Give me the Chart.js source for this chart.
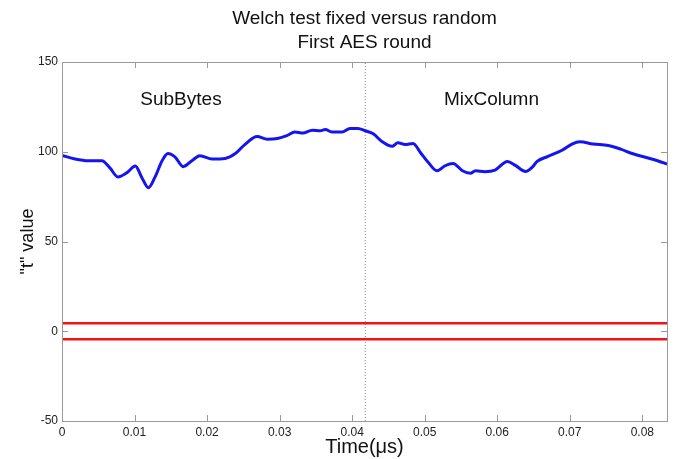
<!DOCTYPE html>
<html>
<head>
<meta charset="utf-8">
<script src="https://cdn.jsdelivr.net/npm/chart.js@4/dist/chart.umd.min.js"></script>
<style>
  html, body { margin: 0; padding: 0; background: #fff; }
  #wrap { width: 677px; height: 459px; position: relative; }
</style>
</head>
<body>
<div id="wrap"><canvas id="chart"></canvas></div>
<script>
const timeUs = [
  0, 0.0018, 0.0036, 0.0055, 0.0066, 0.0077, 0.0090, 0.0101, 0.0110, 0.0119,
  0.0128, 0.0138, 0.0146, 0.0156, 0.0167, 0.0179, 0.0190, 0.0207, 0.0225, 0.0239,
  0.0252, 0.0269, 0.0283, 0.0297, 0.0310, 0.0321, 0.0332, 0.0345, 0.0356, 0.0363,
  0.0372, 0.0386, 0.0397, 0.0408, 0.0418, 0.0429, 0.0441, 0.0455, 0.0463, 0.0473,
  0.0484, 0.0494, 0.0505, 0.0517, 0.0528, 0.0539, 0.0552, 0.0563, 0.0570, 0.0583,
  0.0597, 0.0614, 0.0625, 0.0639, 0.0648, 0.0655, 0.0670, 0.0690, 0.0703, 0.0714,
  0.0732, 0.0753, 0.0770, 0.0786, 0.0804, 0.0821, 0.0834
];
const tValues = [
  98, 96, 95, 95, 91, 86, 88.5, 92, 85.7, 80,
  85.7, 95, 99, 97, 91.7, 95, 97.8, 96, 96.3, 99,
  104, 108.5, 107, 107.4, 109, 111, 110.4, 112, 111.7, 112.4,
  111, 111, 113, 113, 111.7, 110, 105.7, 103, 105, 104,
  104.6, 99.6, 94, 89.4, 92.2, 93.5, 89.4, 88, 89.4, 88.9,
  89.8, 94.6, 92.4, 89, 91.3, 94.6, 97.4, 101, 104.3, 105.6,
  104.3, 103.5, 101.5, 99, 96.9, 95, 93.1
];
const xTicks = [0, 0.01, 0.02, 0.03, 0.04, 0.05, 0.06, 0.07, 0.08];
const yTicks = [-50, 0, 50, 100, 150];
const xMax = 0.0834;
const thresholds = [4.5, -4.5];
const splitTime = 0.0418;
const titleLines = ['Welch test fixed versus random', 'First AES round'];
const phaseLabels = [
  { text: 'SubBytes', x: 0.0164, y: 129 },
  { text: 'MixColumn', x: 0.0592, y: 129 },
];

const FONT = '"Liberation Sans", Arial, sans-serif';
const AXIS_GRAY = '#9a9a9a';

// matlab-ish frame: box on all sides, inward ticks, title and phase labels
const framePlugin = {
  id: 'frame',
  afterDatasetsDraw(chart) {
    const { ctx, chartArea: a, scales: { x, y } } = chart;
    ctx.save();
    ctx.strokeStyle = AXIS_GRAY;
    ctx.lineWidth = 1;
    ctx.strokeRect(a.left + 0.5, a.top + 0.5, a.right - a.left, a.bottom - a.top);
    ctx.beginPath();
    xTicks.forEach(v => {
      const px = Math.round(x.getPixelForValue(v)) + 0.5;
      ctx.moveTo(px, a.bottom); ctx.lineTo(px, a.bottom - 6);
      ctx.moveTo(px, a.top); ctx.lineTo(px, a.top + 6);
    });
    yTicks.forEach(v => {
      const py = Math.round(y.getPixelForValue(v)) + 0.5;
      ctx.moveTo(a.left, py); ctx.lineTo(a.left + 6, py);
      ctx.moveTo(a.right, py); ctx.lineTo(a.right - 6, py);
    });
    ctx.stroke();

    ctx.fillStyle = '#111';
    ctx.textAlign = 'center';
    ctx.textBaseline = 'middle';
    ctx.font = '19px ' + FONT;
    const cx = (a.left + a.right) / 2;
    titleLines.forEach((t, i) => ctx.fillText(t, cx, 19 + i * 24));
    phaseLabels.forEach(l => ctx.fillText(l.text, x.getPixelForValue(l.x), y.getPixelForValue(l.y)));
    ctx.restore();
  }
};

new Chart(document.getElementById('chart'), {
  type: 'line',
  data: {
    datasets: [
      {
        data: timeUs.map((t, i) => ({ x: t, y: tValues[i] })),
        borderColor: '#1414f0',
        borderWidth: 3,
        pointRadius: 0,
        cubicInterpolationMode: 'monotone',
      },
      ...thresholds.map(v => ({
        data: [{ x: 0, y: v }, { x: xMax, y: v }],
        borderColor: '#f01414',
        borderWidth: 2.5,
        pointRadius: 0,
      })),
      {
        data: [{ x: splitTime, y: -50 }, { x: splitTime, y: 150 }],
        borderColor: '#888',
        borderWidth: 1,
        borderDash: [1, 2],
        pointRadius: 0,
      }
    ]
  },
  options: {
    responsive: true,
    maintainAspectRatio: false,
    animation: false,
    events: [],
    layout: { padding: { top: 62, right: 10, left: 0, bottom: 0 } },
    plugins: {
      legend: { display: false },
      title: { display: false },
      tooltip: { enabled: false }
    },
    scales: {
      x: {
        type: 'linear',
        min: 0,
        max: xMax,
        afterBuildTicks: axis => { axis.ticks = xTicks.map(v => ({ value: v })); },
        afterFit: s => { s.height = 38; },
        grid: { display: false, drawTicks: false },
        border: { display: false },
        ticks: {
          color: '#222',
          font: { family: FONT, size: 12 },
          padding: 4,
          maxRotation: 0,
          callback: v => v === 0 ? '0' : v.toFixed(2)
        },
        title: {
          display: true,
          text: 'Time(μs)',
          color: '#111',
          font: { family: FONT, size: 20 },
          padding: { top: 0, bottom: 0 }
        }
      },
      y: {
        min: -50,
        max: 150,
        afterBuildTicks: axis => { axis.ticks = yTicks.map(v => ({ value: v })); },
        afterFit: s => { s.width = 62; },
        grid: { display: false, drawTicks: false },
        border: { display: false },
        ticks: {
          color: '#222',
          font: { family: FONT, size: 12 },
          padding: 4
        },
        title: {
          display: true,
          text: '"t" value',
          color: '#111',
          font: { family: FONT, size: 18 },
          padding: { top: 17, bottom: 0 }
        }
      }
    }
  },
  plugins: [framePlugin]
});
</script>
</body>
</html>
